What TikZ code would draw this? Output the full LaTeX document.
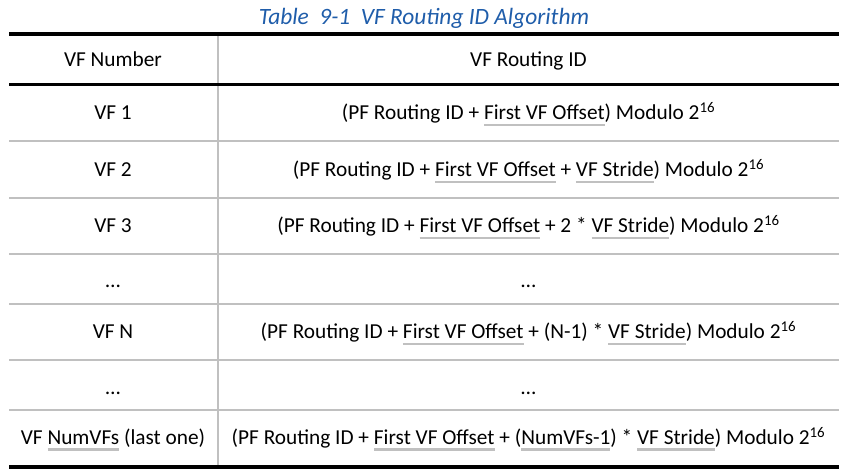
\documentclass[tikz,border=0pt]{standalone}
\usepackage{fontspec}
\setmainfont{Carlito}
\newfontfamily\titlefont{Carlito}
\definecolor{rulegray}{RGB}{192,192,192}
\definecolor{titleblue}{RGB}{31,93,170}
\newcommand\gul[1]{\leavevmode\setbox0\hbox{#1}\rlap{\color{rulegray}\rule[-6bp]{\wd0}{2.4bp}}\box0\relax}
\newcommand\modsix{Modulo 2\textsuperscript{16}}
\begin{document}
\begin{tikzpicture}[x=1bp,y=-1bp,
  cell/.style={inner sep=0pt,font=\fontsize{21.3bp}{25bp}\selectfont,anchor=base},
  thickrule/.style={line width=3.6bp,black},
  thinrule/.style={line width=2.4bp,rulegray}]
\useasboundingbox (0,0) rectangle (845,475);
\node[inner sep=0pt,anchor=base,text=titleblue,font=\titlefont\itshape\fontsize{23.4bp}{27bp}\selectfont] (title) at (424,25) {Table\ \ 9-1\ \ VF Routing ID Algorithm};
% rules
\draw[thinrule] (218,34) -- (218,467);
\foreach \yy in {141,198,254,304,360,410} \draw[thinrule] (9,\yy) -- (839,\yy);
\draw[thickrule] (9,34) -- (839,34);
\draw[thickrule] (9,84.5) -- (839,84.5);
\draw[thickrule] (9,467) -- (839,467);
% header
\node[cell] (h1) at (113,66.5) {VF Number};
\node[cell] (h2) at (528.5,66.5) {VF Routing ID};
% rows
\node[cell] (a1) at (113,120) {VF 1};
\node[cell] (b1) at (528.5,120) {(PF Routing ID + \gul{First VF Offset}) \modsix};
\node[cell] (a2) at (113,177) {VF 2};
\node[cell] (b2) at (528.5,177) {(PF Routing ID + \gul{First VF Offset} + \gul{VF Stride}) \modsix};
\node[cell] (a3) at (113,233) {VF 3};
\node[cell] (b3) at (528.5,233) {(PF Routing ID + \gul{First VF Offset} + 2 * \gul{VF Stride}) \modsix};
\node[cell] (a4) at (113,288) {\dots};
\node[cell] (b4) at (528.5,288) {\dots};
\node[cell] (a5) at (113,339) {VF N};
\node[cell] (b5) at (528.5,339) {(PF Routing ID + \gul{First VF Offset} + (N-1) * \gul{VF Stride}) \modsix};
\node[cell] (a6) at (113,394) {\dots};
\node[cell] (b6) at (528.5,394) {\dots};
\node[cell] (a7) at (113,444.5) {VF \gul{NumVFs} (last one)};
\node[cell] (b7) at (528.5,444.5) {(PF Routing ID + \gul{First VF Offset} + (\gul{NumVFs-1}) * \gul{VF Stride}) \modsix};
\end{tikzpicture}
\end{document}
